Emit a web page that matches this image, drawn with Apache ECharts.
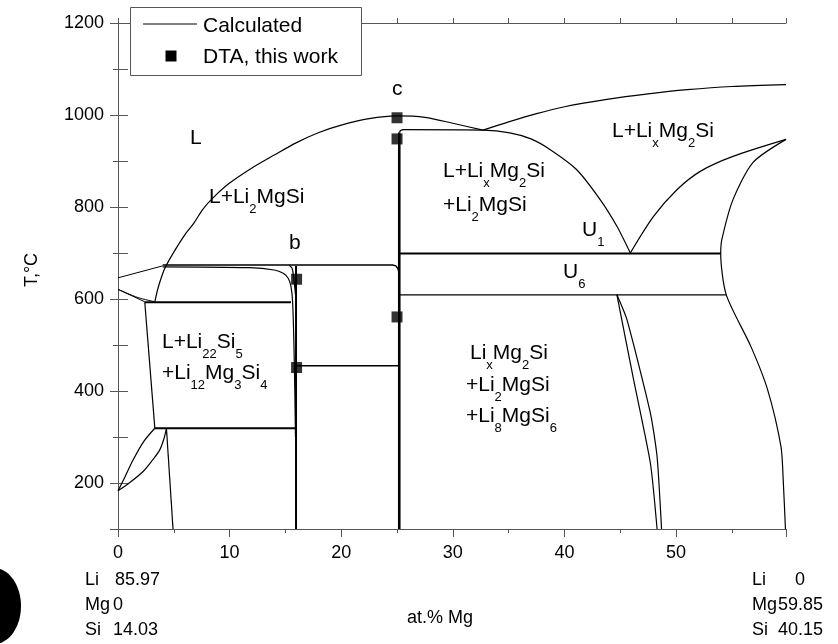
<!DOCTYPE html>
<html>
<head>
<meta charset="utf-8">
<script src="https://cdn.jsdelivr.net/npm/echarts@6/dist/echarts.min.js"></script>
<style>html,body{margin:0;padding:0;background:#fff}#c{width:838px;height:644px}</style>
</head>
<body>
<div id="c"></div>
<script>
// ---- data (x: at.% Mg, y: T in °C) ----
const liquidusDome = [[3.3,594],[3.6,625],[4.0,655],[4.3,672],[5.0,702],[6.0,740],[6.8,765],[7.6,795],[8.6,822],[10,852],[12,885],[14,913],[16,940],[18,962],[20,978],[22.5,992],[25,998],[27.5,995],[30,982],[32.7,967]];
const liquidusRight = [[32.7,967],[35,985],[37.5,1003],[40,1018],[43.8,1034],[47.5,1046],[51,1055],[55,1062],[59.85,1066]];
const line967 = [[25.2,962],[25.35,967],[25.6,968],[32.7,967],[35.1,961],[37,948],[38.7,925],[41.1,881],[43.2,816],[44.7,758],[45.9,700]];
const curveU1Right = [[45.9,700],[48.0,780],[50.1,838],[52.2,878],[55.1,910],[59.85,947]];
const rightSolvus = [[59.85,947],[56.9,897],[55.1,816],[54.1,729],[54.0,699],[54.5,609],[56.7,497],[58.2,403],[59.4,279],[59.6,207],[59.8,100]];
const solvusL = [[44.7,609],[46.2,424],[47.7,243],[48.3,100]];
const solvusR = [[44.7,609],[45.6,555],[47.7,352],[48.3,257],[48.7,100]];
const lineA = [[0,646],[4.0,672]];
const line675 = [[4.0,674],[24.6,674],[24.9,672],[25.1,665],[25.2,655]];
const curveB = [[4.0,670],[11.8,668],[14.0,663],[14.8,656],[15.25,645],[15.5,627],[15.65,592],[15.8,460],[15.9,300]];
const curveB2 = [[15.3,674],[15.6,667],[15.75,645],[15.9,610]];
const vert16 = [[15.95,672],[15.95,100]];
const line593 = [[2.4,593],[15.5,593]];
const fanA = [[0,621],[2.4,594]];
const fanB = [[0,621],[1.8,603],[3.3,594]];
const boxEdge = [[2.4,593],[3.3,319]];
const line319 = [[3.3,319],[15.95,319]];
const curveH1 = [[0,183],[0.6,212],[1.35,250],[2.3,290],[3.3,319]];
const curveH2 = [[0,183],[1.0,200],[2.25,225],[3.1,250],[3.74,272],[4.1,295],[4.34,319]];
const lineI = [[4.34,319],[4.93,100]];
const line455 = [[15.95,455],[25.2,455]];
const vert25 = [[25.2,100],[25.2,962]];
const lineU1 = [[25.2,699],[54.0,699]];
const lineU6 = [[25.2,609],[54.5,609]];
const dta = [[25.0,994],[25.0,948],[16.0,643],[16.0,451],[25.0,561]];
const xTicks = [0,10,20,30,40,50];
const yTicks = [200,400,600,800,1000,1200];

const FONT = '"Liberation Sans", Arial, sans-serif';
const chart = echarts.init(document.getElementById('c'), null, {renderer:'canvas'});

function ln(data, w, smooth) {
  return {type:'line', data:data, xAxisIndex:0, yAxisIndex:0, showSymbol:false, symbol:'none',
    smooth: smooth || false, silent:true, animation:false,
    lineStyle:{color:'#000', width:w}, z:3};
}
const series = [
  ln(liquidusDome,1.2,0.3), ln(liquidusRight,1.2,0.3), ln(line967,1.2,0.25), ln(curveU1Right,1.2,0.3),
  ln(rightSolvus,1.2,0.25), ln(solvusL,1.2,0.2), ln(solvusR,1.2,0.2), ln(lineA,1), ln(line675,1.5),
  ln(curveB,1.2,0.3), ln(curveB2,1.2,0.3), ln(vert16,2), ln(line593,2), ln(fanA,1), ln(fanB,1,0.3),
  ln(boxEdge,1.2), ln(line319,2), ln(curveH1,1.2,0.3), ln(curveH2,1.2,0.3), ln(lineI,1.2),
  ln(line455,1.5), ln(vert25,2.6), ln(lineU1,2), ln(lineU6,1.2),
  {type:'scatter', name:'DTA, this work', data:dta, xAxisIndex:0, yAxisIndex:0, symbol:'rect',
   symbolSize:11, itemStyle:{color:'#000'}, silent:true, animation:false, z:5}
];

const axisGray = '#555';
const common = {min:0, max:59.85, type:'value', splitLine:{show:false},
  axisLine:{show:true, lineStyle:{color:axisGray, width:1}}};
const xAxes = [
  Object.assign({}, common, {position:'bottom', interval:10,
    axisTick:{show:true, length:8, lineStyle:{color:axisGray}},
    axisLabel:{show:true, margin:15, color:'#000', fontSize:18, fontFamily:FONT,
      formatter:v => xTicks.indexOf(v) >= 0 ? String(v) : ''}}),
  Object.assign({}, common, {position:'bottom', interval:5,
    axisTick:{show:true, length:4, lineStyle:{color:axisGray}}, axisLabel:{show:false}}),
  Object.assign({}, common, {position:'top', interval:5,
    axisTick:{show:true, length:5, lineStyle:{color:axisGray}}, axisLabel:{show:false}})
];
const ycommon = {min:100, max:1200, type:'value', splitLine:{show:false},
  axisLine:{show:true, lineStyle:{color:axisGray, width:1}}};
const yAxes = [
  Object.assign({}, ycommon, {position:'left', splitNumber:5,
    axisTick:{show:true, length:8, lineStyle:{color:axisGray}},
    axisLabel:{show:true, margin:14, color:'#000', fontSize:18, fontFamily:FONT,
      formatter:v => yTicks.indexOf(v) >= 0 ? String(v) : ''}}),
  Object.assign({}, ycommon, {position:'left', interval:100,
    axisTick:{show:true, length:5, lineStyle:{color:axisGray}}, axisLabel:{show:false}}),
  Object.assign({}, ycommon, {position:'right', interval:100,
    axisTick:{show:true, length:10, lineStyle:{color:axisGray}}, axisLabel:{show:false}})
];

const M = 21, S = 13;
const rich = {
  m:{fontSize:M, fontFamily:FONT, lineHeight:24, verticalAlign:'top', fill:'#000'},
  s:{fontSize:S, fontFamily:FONT, lineHeight:13, padding:[16,0,0,0], verticalAlign:'top', fill:'#000'}
};
function lab(txt, x, cy) {
  return {type:'text', x:x, y:cy-12, z:10, silent:true,
    style:{text:txt, rich:rich, fontSize:M, fontFamily:FONT, fill:'#000', align:'left', verticalAlign:'top'}};
}
function plain(txt, x, cy, size, align) {
  return {type:'text', x:x, y:cy, z:10, silent:true,
    style:{text:txt, fontSize:size, fontFamily:FONT, fill:'#000', align:align||'left', verticalAlign:'middle'}};
}
const graphics = [
  lab('{m|L}', 190, 140),
  lab('{m|c}', 392, 91),
  lab('{m|b}', 289, 245),
  lab('{m|L+Li}{s|2}{m|MgSi}', 209, 199),
  lab('{m|L+Li}{s|x}{m|Mg}{s|2}{m|Si}', 443, 173),
  lab('{m|+Li}{s|2}{m|MgSi}', 443, 207),
  lab('{m|L+Li}{s|x}{m|Mg}{s|2}{m|Si}', 612, 133),
  lab('{m|U}{s|1}', 582, 232),
  lab('{m|U}{s|6}', 563, 274),
  lab('{m|L+Li}{s|22}{m|Si}{s|5}', 162, 344),
  lab('{m|+Li}{s|12}{m|Mg}{s|3}{m|Si}{s|4}', 162, 375),
  lab('{m|Li}{s|x}{m|Mg}{s|2}{m|Si}', 470, 355),
  lab('{m|+Li}{s|2}{m|MgSi}', 466, 387),
  lab('{m|+Li}{s|8}{m|MgSi}{s|6}', 466, 418),
  {type:'rect', z:20, silent:true, shape:{x:130.5, y:7.5, width:231, height:68},
   style:{fill:'#fff', stroke:'#555', lineWidth:1}},
  {type:'line', z:21, silent:true, shape:{x1:143, y1:24, x2:197, y2:24}, style:{stroke:'#000', lineWidth:1}},
  {type:'rect', z:21, silent:true, shape:{x:165.5, y:50.5, width:11, height:11}, style:{fill:'#000'}},
  Object.assign(plain('Calculated', 203, 26, 21), {z:21}),
  Object.assign(plain('DTA, this work', 203, 57, 21), {z:21}),
  {type:'text', x:32, y:270, rotation:Math.PI/2, z:10, silent:true,
   style:{text:'T,°C', fontSize:18, fontFamily:FONT, fill:'#000', align:'center', verticalAlign:'middle'}},
  plain('at.% Mg', 440, 618, 18, 'center'),
  plain('Li', 85, 580, 18), plain('85.97', 115, 580, 18),
  plain('Mg', 85, 605, 18), plain('0', 113, 605, 18),
  plain('Si', 85, 630, 18), plain('14.03', 113, 630, 18),
  plain('Li', 752, 580, 18), plain('0', 795, 580, 18),
  plain('Mg', 752, 605, 18), plain('59.85', 778, 605, 18),
  plain('Si', 752, 630, 18), plain('40.15', 778, 630, 18),
  {type:'ellipse', z:10, silent:true, shape:{cx:-6, cy:606, rx:27, ry:38}, style:{fill:'#000'}}
];

chart.setOption({
  animation:false,
  backgroundColor:'#fff',
  grid:{left:118, top:23, width:668, height:506, containLabel:false},
  xAxis:xAxes,
  yAxis:yAxes,
  series:series,
  graphic:graphics
});
</script>
</body>
</html>
